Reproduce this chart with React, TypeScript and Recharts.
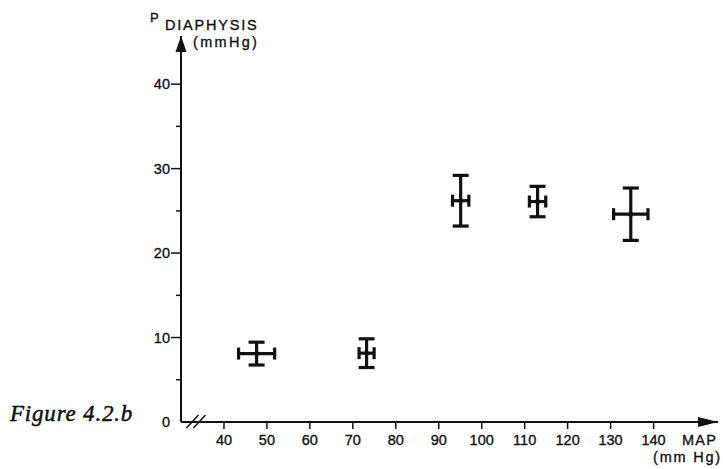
import { ScatterChart, Scatter, XAxis, YAxis, ErrorBar, ReferenceDot, Label } from "recharts";

// MAP (mm Hg) vs diaphysis pressure (mmHg), mean ± error
const mapValues = [47.6, 73.2, 95.1, 113.0, 134.7];
const mapErrors = [4.2, 1.75, 1.9, 1.9, 4.0];
const pressureValues = [8.1, 8.15, 26.2, 26.1, 24.6];
const pressureErrors = [1.35, 1.7, 3.0, 1.8, 3.1];

const xTicks = [40, 50, 60, 70, 80, 90, 100, 110, 120, 130, 140];
const yTicks = [0, 5, 10, 15, 20, 25, 30, 35, 40];

const ink = "#111";
const sans = "'Liberation Sans', Arial, sans-serif";

const data = mapValues.map((x, i) => ({
  map: x,
  mapErr: mapErrors[i],
  pressure: pressureValues[i],
  pressureErr: pressureErrors[i],
}));

const YTick = (props: any) => {
  const { x, y, payload } = props;
  const v = payload.value;
  const major = v % 10 === 0;
  return (
    <g>
      {v !== 0 && (
        <line x1={x - (major ? 10 : 5)} x2={x} y1={y} y2={y} stroke={ink} strokeWidth={1.5} />
      )}
      {major && (
        <text x={x - 11} y={y} dy="0.35em" textAnchor="end" fontSize={14.5} fontFamily={sans}
          fill={ink} stroke={ink} strokeWidth={0.35}>
          {v}
        </text>
      )}
    </g>
  );
};

const YTitle = () => (
  <g fill={ink} stroke={ink} strokeWidth={0.35} fontFamily={sans}>
    <text x={150} y={22} fontSize={13}>P</text>
    <text x={165} y={30} fontSize={14.5} letterSpacing={1.8}>DIAPHYSIS</text>
    <text x={193} y={47} fontSize={14.5} letterSpacing={2.3}>(mmHg)</text>
    <text x={10} y={421} fontSize={23} fontStyle="italic" letterSpacing={0.8} strokeWidth={0.5}
      fontFamily="'Liberation Serif', 'Times New Roman', serif">
      Figure 4.2.b
    </text>
  </g>
);

const XTitle = () => (
  <g fill={ink} stroke={ink} strokeWidth={0.35} fontFamily={sans}>
    <text x={682} y={445} fontSize={14.5} letterSpacing={1.2}>MAP</text>
    <text x={653} y={462} fontSize={14.5} letterSpacing={1.8}>(mm Hg)</text>
  </g>
);

const UpArrow = ({ cx, cy }: any) => (
  <path d={`M${cx},${cy} L${cx - 5.5},${cy + 16} L${cx + 5.5},${cy + 16} Z`} fill={ink} />
);

const RightArrow = ({ cx, cy }: any) => (
  <path d={`M${cx},${cy} L${cx - 20},${cy - 5} L${cx - 20},${cy + 5} Z`} fill={ink} />
);

// "//" axis break mark
const AxisBreak = ({ cx, cy }: any) => (
  <g stroke={ink} strokeWidth={1.5}>
    <line x1={cx - 10} y1={cy + 6} x2={cx + 2} y2={cy - 7} />
    <line x1={cx - 3} y1={cy + 6} x2={cx + 9} y2={cy - 7} />
  </g>
);

const CenterMark = ({ cx, cy }: any) => <circle cx={cx} cy={cy} r={2.5} fill={ink} />;

export default function App() {
  return (
    <div style={{ position: "absolute", left: 0, top: 0, background: "#fff" }}>
      <ScatterChart width={723} height={469} margin={{ top: 36, right: 5, bottom: 0, left: 0 }}>
        <XAxis
          type="number"
          dataKey="map"
          domain={[30, 155]}
          ticks={xTicks}
          height={47}
          axisLine={{ stroke: ink, strokeWidth: 2 }}
          tickLine={{ stroke: ink, strokeWidth: 1.5 }}
          tickSize={7}
          tickMargin={6}
          tick={{ fill: ink, fontSize: 14.5, fontFamily: sans, stroke: ink, strokeWidth: 0.35 }}
        >
          <Label content={XTitle} />
        </XAxis>
        <YAxis
          type="number"
          dataKey="pressure"
          domain={[0, 45.7]}
          ticks={yTicks}
          width={181}
          axisLine={{ stroke: ink, strokeWidth: 2 }}
          tickLine={false}
          tickSize={0}
          tickMargin={0}
          tick={YTick}
        >
          <Label content={YTitle} />
        </YAxis>
        <Scatter data={data} shape={CenterMark} isAnimationActive={false}>
          <ErrorBar dataKey="mapErr" direction="x" width={6} stroke={ink} strokeWidth={3.2} isAnimationActive={false} />
          <ErrorBar dataKey="pressureErr" direction="y" width={8} stroke={ink} strokeWidth={3.2} isAnimationActive={false} />
        </Scatter>
        <ReferenceDot x={30} y={45.7} ifOverflow="visible" shape={UpArrow} />
        <ReferenceDot x={155} y={0} ifOverflow="visible" shape={RightArrow} />
        <ReferenceDot x={33.6} y={0} ifOverflow="visible" shape={AxisBreak} />
      </ScatterChart>
    </div>
  );
}
